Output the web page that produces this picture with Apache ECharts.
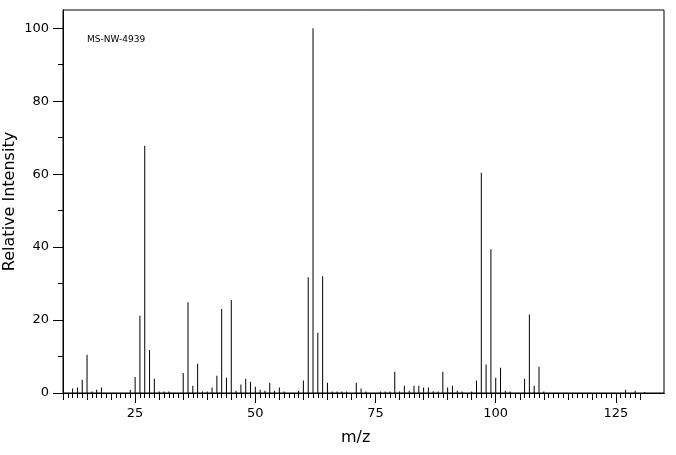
<!DOCTYPE html>
<html>
<head>
<meta charset="utf-8">
<script src="https://cdn.jsdelivr.net/npm/echarts@6/dist/echarts.min.js"></script>
<style>
  html, body { margin: 0; padding: 0; background: #fff; }
  #main { width: 676px; height: 455px; }
</style>
</head>
<body>
<div id="main"></div>
<script>
// m/z values and relative intensities
var mz = [12, 13, 14, 15, 16, 17, 18, 24, 25, 26, 27, 28, 29, 30, 31, 32, 35, 36, 37, 38,
  39, 40, 41, 42, 43, 44, 45, 46, 47, 48, 49, 50, 51, 52, 53, 54, 55, 56, 59, 60,
  61, 62, 63, 64, 65, 66, 67, 68, 69, 71, 72, 73, 76, 77, 78, 79, 80, 81, 82, 83,
  84, 85, 86, 87, 88, 89, 90, 91, 92, 93, 95, 96, 97, 98, 99, 100, 101, 102, 103, 106,
  107, 108, 109, 110, 127, 129, 131];
var intensity = [1.2, 1.5, 3.6, 10.5, 0.4, 0.9, 1.5, 0.9, 4.4, 21.2, 67.8, 11.8, 3.9, 0.4, 0.4, 0.4, 5.5, 24.9, 2.0, 8.0,
  0.4, 0.4, 1.5, 4.7, 23.0, 4.2, 25.5, 0.6, 2.3, 3.9, 3.1, 1.7, 0.9, 0.6, 2.8, 0.6, 1.5, 0.4, 0.6, 3.4,
  31.7, 100, 16.5, 32.0, 2.8, 0.4, 0.4, 0.4, 0.4, 2.8, 1.2, 0.4, 0.4, 0.4, 0.4, 5.8, 0.4, 2.0, 0.6, 2.0,
  2.0, 1.5, 1.5, 0.5, 0.4, 5.8, 1.5, 2.0, 0.6, 0.4, 0.4, 3.4, 60.4, 7.8, 39.4, 4.2, 6.9, 0.6, 0.4, 3.9,
  21.5, 2.0, 7.2, 0.4, 0.9, 0.6, 0.3];

var xLabels = [25, 50, 75, 100, 125];
var yLabels = [0, 20, 40, 60, 80, 100];
var yMinor = [10, 30, 50, 70, 90];

// tick marks along m/z: every 5 and every 1, from 10 to 130
var xMid = [], xMinor = [];
for (var t = 10; t <= 130; t++) {
  if (t % 5 === 0) xMid.push(t);
  else xMinor.push(t);
}

var myChart = echarts.init(document.getElementById('main'));

var font = 'DejaVu Sans';
var axisBase = {
  type: 'value', min: 10, max: 135, position: 'bottom',
  axisLine: { show: true, onZero: false, lineStyle: { color: '#000', width: 1 } },
  splitLine: { show: false }
};
var yBase = {
  type: 'value', min: 0, max: 105, position: 'left',
  axisLine: { show: true, lineStyle: { color: '#000', width: 1 } },
  splitLine: { show: false }
};

var data = mz.map(function (m, i) { return [m, intensity[i]]; });

var option = {
  animation: false,
  backgroundColor: '#fff',
  grid: {
    left: 63, top: 10, width: 601, height: 383,
    outerBoundsMode: 'none', containLabel: false,
    show: true, borderColor: '#000', borderWidth: 1, backgroundColor: 'transparent'
  },
  xAxis: [
    Object.assign({}, axisBase, {
      axisTick: { show: true, length: 10, customValues: xLabels, lineStyle: { color: '#000' } },
      axisLabel: { show: true, customValues: xLabels, margin: 14, color: '#000', fontFamily: font, fontSize: 13 }
    }),
    Object.assign({}, axisBase, {
      axisTick: { show: true, length: 7, customValues: xMid, lineStyle: { color: '#000' } },
      axisLabel: { show: false }
    }),
    Object.assign({}, axisBase, {
      axisTick: { show: true, length: 5, customValues: xMinor, lineStyle: { color: '#000' } },
      axisLabel: { show: false }
    })
  ],
  yAxis: [
    Object.assign({}, yBase, {
      name: 'Relative Intensity', nameLocation: 'middle', nameGap: 45, nameMoveOverlap: false,
      nameTextStyle: { color: '#000', fontFamily: font, fontSize: 16 },
      axisTick: { show: true, length: 10, customValues: yLabels, lineStyle: { color: '#000' } },
      axisLabel: { show: true, customValues: yLabels, margin: 14, color: '#000', fontFamily: font, fontSize: 13 }
    }),
    Object.assign({}, yBase, {
      axisTick: { show: true, length: 5, customValues: yMinor, lineStyle: { color: '#000' } },
      axisLabel: { show: false }
    })
  ],
  graphic: [
    { type: 'text', left: 87, top: 35, style: { text: 'MS-NW-4939', fill: '#000', font: '9px "DejaVu Sans"' } },
    { type: 'text', left: 341, top: 430, style: { text: 'm/z', fill: '#000', font: '16px "DejaVu Sans"' } }
  ],
  series: [{
    type: 'bar',
    xAxisIndex: 0,
    yAxisIndex: 0,
    barWidth: 1,
    itemStyle: { color: '#000' },
    data: data
  }]
};

myChart.setOption(option);
</script>
</body>
</html>
